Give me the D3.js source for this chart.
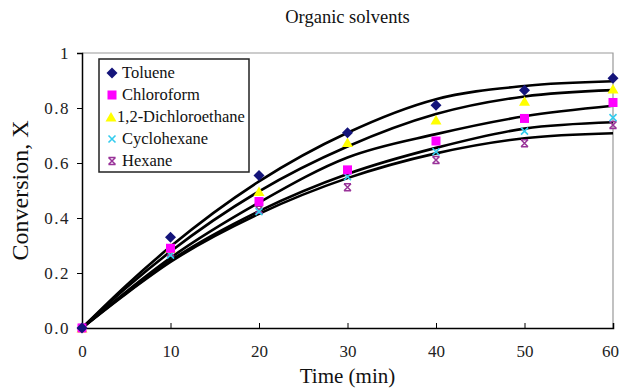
<!DOCTYPE html>
<html>
<head>
<meta charset="utf-8">
<script src="https://cdn.jsdelivr.net/npm/d3@7"></script>
<style>
  body { margin: 0; background: #fff; }
  svg { display: block; font-family: "Liberation Serif", "Times New Roman", serif; }
</style>
</head>
<body>
<div id="chart"></div>
<script>
// data
const times = [0, 10, 20, 30, 40, 50, 60];
const solvents = ['Toluene', 'Chloroform', '1,2-Dichloroethane', 'Cyclohexane', 'Hexane'];
const toluene = [0, 0.33, 0.555, 0.71, 0.81, 0.865, 0.908];
const chloroform = [0, 0.29, 0.46, 0.575, 0.68, 0.762, 0.82];
const dichloroethane = [0, 0.29, 0.496, 0.675, 0.756, 0.825, 0.869];
const cyclohexane = [0, 0.265, 0.423, 0.55, 0.641, 0.716, 0.765];
const hexane = [0, 0.275, 0.43, 0.512, 0.611, 0.672, 0.738];

// fitted model curves (read at these times)
const fitTimes = [0, 5, 10, 20, 30, 40, 50, 60];
const fitToluene = [0, 0.155, 0.296, 0.533, 0.71, 0.832, 0.88, 0.897];
const fitDichloroethane = [0, 0.146, 0.278, 0.497, 0.66, 0.778, 0.842, 0.865];
const fitChloroform = [0, 0.132, 0.255, 0.456, 0.62, 0.705, 0.77, 0.808];
const fitCyclohexane = [0, 0.127, 0.245, 0.425, 0.56, 0.655, 0.725, 0.748];
const fitHexane = [0, 0.125, 0.24, 0.415, 0.545, 0.635, 0.69, 0.708];

const yTicks = [0, 0.2, 0.4, 0.6, 0.8, 1];
const xTicks = [0, 10, 20, 30, 40, 50, 60];

const series = [
  { name: solvents[0], values: toluene, color: '#14147a', shape: 'diamond' },
  { name: solvents[1], values: chloroform, color: '#ff00ff', shape: 'square' },
  { name: solvents[2], values: dichloroethane, color: '#ffff00', shape: 'triangle' },
  { name: solvents[3], values: cyclohexane, color: '#33ccee', shape: 'cross' },
  { name: solvents[4], values: hexane, color: '#993399', shape: 'star' },
];
const fits = [fitToluene, fitDichloroethane, fitChloroform, fitCyclohexane, fitHexane];

const W = 619;
const H = 389;
const marginLeft = 82;
const marginRight = 6;
const marginTop = 53;
const marginBottom = 61;
const width = W - marginLeft - marginRight;
const height = H - marginTop - marginBottom;

const $svg = d3.select('#chart').append('svg').attr('width', W).attr('height', H);
const $g = $svg.append('g').attr('transform', `translate(${marginLeft},${marginTop})`);

const scaleX = d3.scaleLinear().domain([0, 60]).range([0, width]);
const scaleY = d3.scaleLinear().domain([0, 1]).range([height, 0]);

// frame: grey top/right
$g.append('path')
  .attr('d', `M0,0H${width}V${height}`)
  .attr('fill', 'none')
  .attr('stroke', '#999')
  .attr('stroke-width', 1.2);

// axes
const axisX = d3.axisBottom(scaleX).tickValues(xTicks).tickSize(-5).tickPadding(17).tickFormat(d3.format('d'));
const axisY = d3.axisLeft(scaleY).tickValues(yTicks).tickSize(5).tickPadding(7)
  .tickFormat(d => (d === 0 ? '0.0' : d === 1 ? '1' : d3.format('.1f')(d)));

const $ax = $g.append('g').attr('transform', `translate(0,${height})`).call(axisX);
const $ay = $g.append('g').call(axisY);
[$ax, $ay].forEach($a => {
  $a.select('.domain').attr('stroke', '#000').attr('stroke-width', 1.5);
  $a.selectAll('.tick line').attr('stroke', '#000').attr('stroke-width', 1);
  $a.selectAll('.tick text').attr('font-size', 17).attr('font-family', 'Liberation Serif').attr('fill', '#222');
});
$ay.selectAll('.tick text').attr('letter-spacing', 1.5);
// keep the last x label inside the page
$ax.selectAll('.tick text').filter(d => d === 60).attr('dx', -3);

// fitted curves
const line = d3.line()
  .x((d, i) => scaleX(fitTimes[i]))
  .y(d => scaleY(d))
  .curve(d3.curveMonotoneX);

$g.append('g').selectAll('path')
  .data(fits)
  .join('path')
  .attr('d', line)
  .attr('fill', 'none')
  .attr('stroke', '#000')
  .attr('stroke-width', 2.6);

// markers
function marker($sel, shape, color) {
  if (shape === 'diamond') {
    $sel.append('path').attr('d', 'M0,-5.5L5.5,0L0,5.5L-5.5,0Z').attr('fill', color);
  } else if (shape === 'square') {
    $sel.append('rect').attr('x', -4.5).attr('y', -4.5).attr('width', 9).attr('height', 9).attr('fill', color);
  } else if (shape === 'triangle') {
    $sel.append('path').attr('d', 'M0,-5L5.5,4.5L-5.5,4.5Z').attr('fill', color);
  } else if (shape === 'cross') {
    $sel.append('path').attr('d', 'M-3.5,-3.5L3.5,3.5M3.5,-3.5L-3.5,3.5')
      .attr('stroke', color).attr('stroke-width', 1.6);
  } else {
    $sel.append('path').attr('d', 'M-3.5,-3.5L3.5,3.5M3.5,-3.5L-3.5,3.5M-3.5,-3.5H3.5M-3.5,3.5H3.5')
      .attr('stroke', color).attr('stroke-width', 1.5);
  }
}

series.slice().reverse().forEach(s => {
  const $pts = $g.append('g').selectAll('g')
    .data(s.values)
    .join('g')
    .attr('transform', (d, i) => `translate(${scaleX(times[i])},${scaleY(d)})`);
  $pts.each(function () { marker(d3.select(this), s.shape, s.color); });
});

// legend
const $legend = $svg.append('g').attr('transform', 'translate(99,59)');
$legend.append('rect')
  .attr('width', 150).attr('height', 113)
  .attr('fill', '#fff').attr('stroke', '#222').attr('stroke-width', 1.5);
const $item = $legend.selectAll('g.item')
  .data(series)
  .join('g')
  .attr('class', 'item')
  .attr('transform', (d, i) => `translate(0,${14 + i * 22})`);
$item.each(function (d, i) {
  const $m = d3.select(this).append('g').attr('transform', `translate(${i === 2 ? 12 : 13},0)`);
  marker($m, d.shape, d.color);
});
$item.append('text')
  .attr('x', (d, i) => (i === 2 ? 18 : 23))
  .attr('y', 5)
  .attr('font-size', 16.5)
  .attr('fill', '#111')
  .text(d => d.name);

// titles
$svg.append('text')
  .attr('x', marginLeft + width / 2).attr('y', 23)
  .attr('text-anchor', 'middle').attr('font-size', 18.5).attr('fill', '#111')
  .text('Organic solvents');
$svg.append('text')
  .attr('x', marginLeft + width / 2).attr('y', 383)
  .attr('text-anchor', 'middle').attr('font-size', 21).attr('fill', '#111')
  .text('Time (min)');
$svg.append('text')
  .attr('transform', `translate(28,${marginTop + height / 2}) rotate(-90)`)
  .attr('text-anchor', 'middle').attr('font-size', 24).attr('fill', '#111')
  .text('Conversion, X');
</script>
</body>
</html>
